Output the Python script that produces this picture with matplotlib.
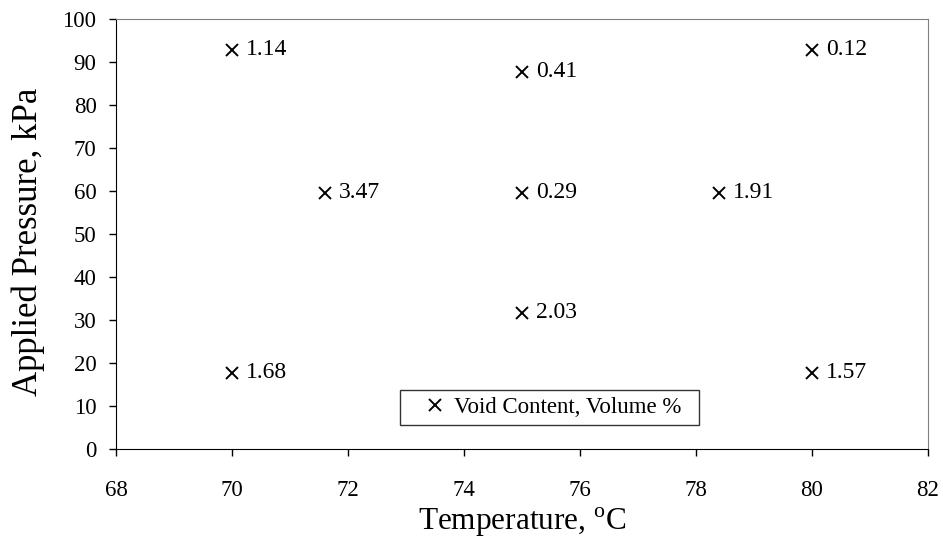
import matplotlib
matplotlib.use("Agg")
import matplotlib.pyplot as plt

# 设计点：温度、压力与孔隙率
temperature = [70, 75, 80, 71.6, 75, 78.4, 75, 70, 80]
pressure = [92.8, 87.7, 92.8, 59.6, 59.6, 59.6, 31.7, 17.7, 17.7]
void_content = ["1.14", "0.41", "0.12", "3.47", "0.29", "1.91", "2.03", "1.68", "1.57"]

x_ticks = [68, 70, 72, 74, 76, 78, 80, 82]
y_ticks = list(range(0, 101, 10))

plt.rcParams['font.family'] = ['Liberation Serif', 'DejaVu Serif']

fig = plt.figure(figsize=(9.43, 5.39), dpi=100)
ax = fig.add_axes((0.123, 0.167, 0.861, 0.798))

ax.plot(temperature, pressure, linestyle='none', marker='x', color='black',
        markersize=9, markeredgewidth=1.4, label='Void Content, Volume %  ')

for x, y, txt in zip(temperature, pressure, void_content):
    ax.annotate(txt, (x, y), xytext=(10, 0), textcoords='offset points',
                va='center', ha='left', fontsize=17)

ax.set_xlim(68, 82)
ax.set_ylim(0, 100)
ax.set_xticks(x_ticks)
ax.set_yticks(y_ticks)
ax.tick_params(direction='out', length=5, width=1, labelsize=16.5)
ax.tick_params(axis='x', pad=17)
ax.tick_params(axis='y', pad=9)

ax.spines['top'].set_color('#808080')
ax.spines['right'].set_color('#808080')
for side in ('left', 'bottom'):
    ax.spines[side].set_color('black')

ax.set_xlabel('Temperature, $^{\\mathregular{o}}$C', fontsize=22.5, labelpad=4)
ax.set_ylabel('Applied Pressure, kPa', fontsize=25)
ax.yaxis.set_label_coords(-0.088, 0.482)

leg = ax.legend(loc='center', bbox_to_anchor=(0.534, 0.097), fontsize=16.5,
                frameon=True, fancybox=False, handlelength=2.5,
                handletextpad=-0.45, borderpad=0.3)
leg.get_frame().set_edgecolor('black')
leg.get_frame().set_linewidth(1)

fig.savefig('out.png', dpi=100)
